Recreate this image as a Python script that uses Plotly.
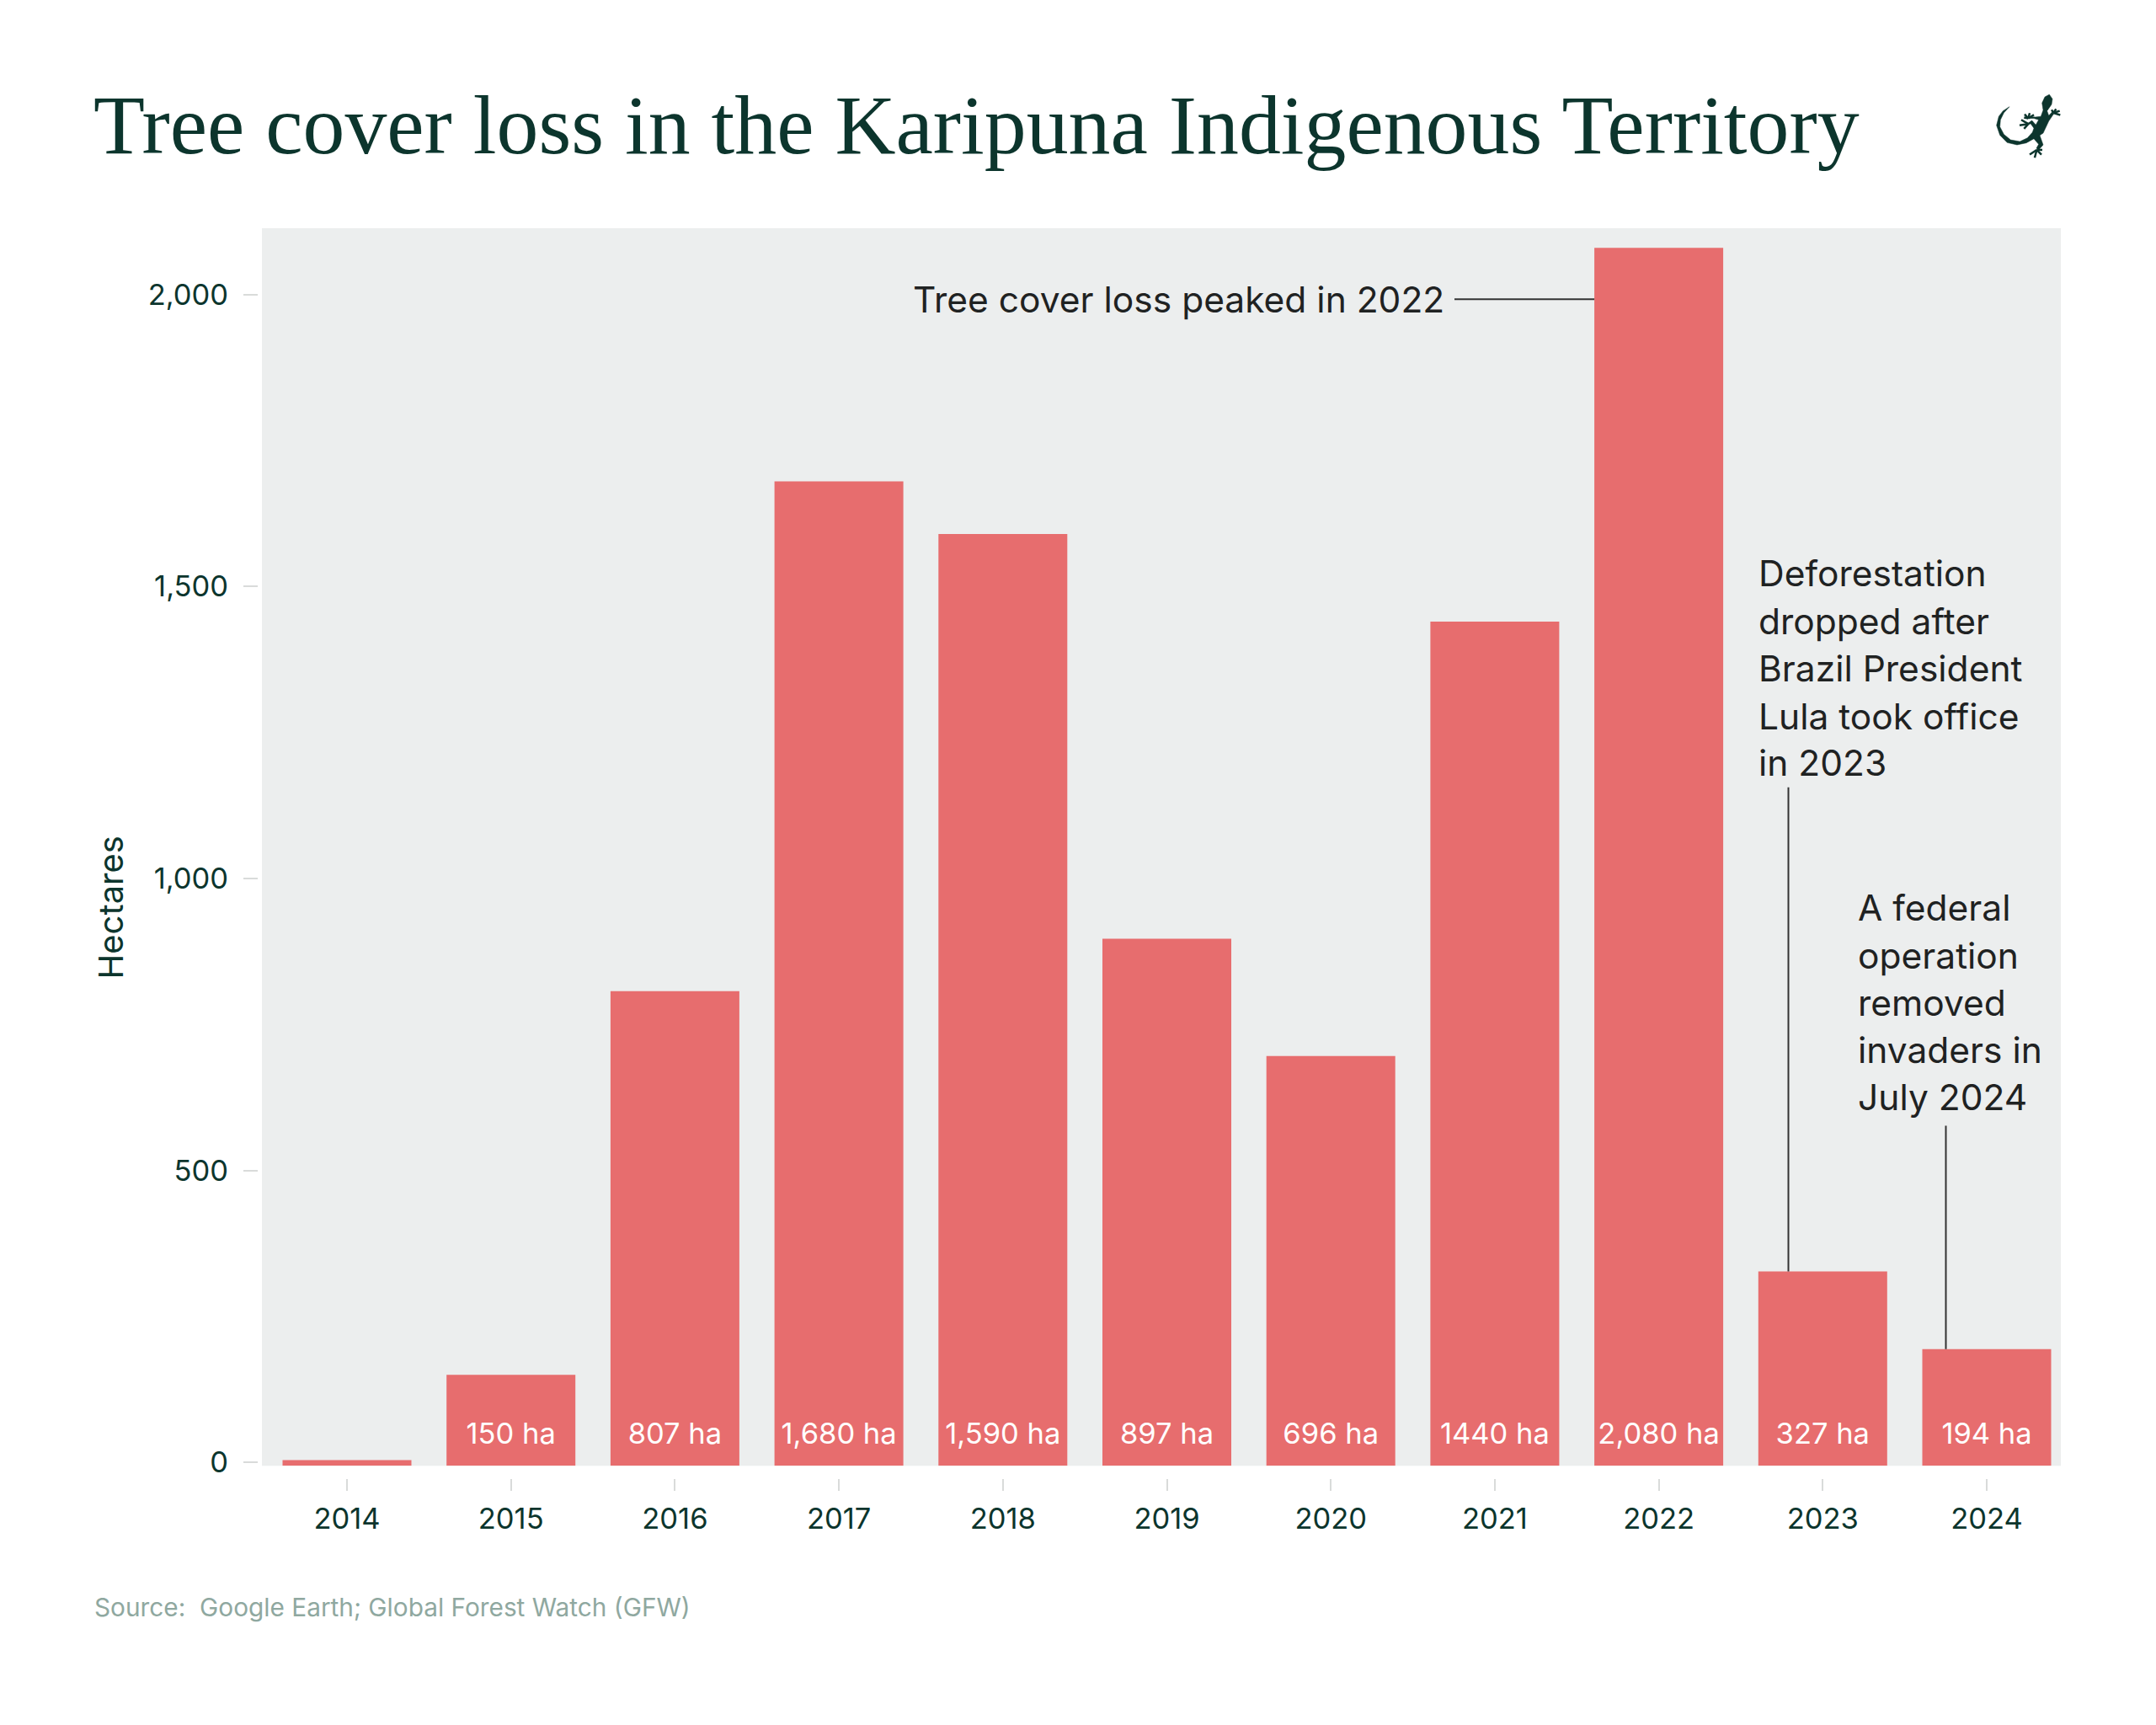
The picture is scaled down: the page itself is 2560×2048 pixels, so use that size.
import numpy as np
import plotly.graph_objects as go

W, H = 2560, 2048

# ---- data ----
years = [2014, 2015, 2016, 2017, 2018, 2019, 2020, 2021, 2022, 2023, 2024]
hectares = [4, 150, 807, 1680, 1590, 897, 696, 1440, 2080, 327, 194]
bar_labels = ["", "150 ha", "807 ha", "1,680 ha", "1,590 ha", "897 ha", "696 ha",
              "1440 ha", "2,080 ha", "327 ha", "194 ha"]
y_ticks = [0, 500, 1000, 1500, 2000]
y_tick_labels = ["0", "500", "1,000", "1,500", "2,000"]
title_text = "Tree cover loss in the Karipuna Indigenous Territory"
source_text = "Source:&nbsp; Google Earth; Global Forest Watch (GFW)"
note_peak = "Tree cover loss peaked in 2022"
note_lula = ["Deforestation", "dropped after", "Brazil President", "Lula took office", "in 2023"]
note_op = ["A federal", "operation", "removed", "invaders in", "July 2024"]

# ---- styles ----
GREEN = "#0C352D"
BAR = "#E76D6E"
PANEL = "#ECEEEE"
NOTE = "#1F2222"
LEADER = "#333333"
TICK = "#D9DBDA"
SRC = "#8FA8A0"
SANS = "Inter"
SERIF = "Liberation Serif"

PL, PR, PT, PB = 311, 2447, 273, 1754
Y0, Y2000 = 1750, 352.5
px_per_unit = (Y0 - Y2000) / 2000
y_min = -(PB - Y0) / px_per_unit
y_max = (Y0 - PT) / px_per_unit
X0, STEP = 412, 194.7
x_min = 2014 - (X0 - PL) / STEP
x_max = 2014 + (PR - X0) / STEP
BAR_W = 153 / STEP


def py2y(py):
    return (Y0 - py) / px_per_unit


def px2x(px):
    return 2014 + (px - X0) / STEP


fig = go.Figure()
fig.add_trace(go.Bar(
    x=years,
    y=np.array(hectares) - y_min,
    base=y_min,
    width=BAR_W,
    marker=dict(color=BAR, line=dict(width=0)),
    hoverinfo="skip",
    showlegend=False,
))
fig.add_trace(go.Scatter(
    x=years,
    y=[py2y(1719)] * len(years),
    mode="text",
    text=bar_labels,
    textposition="middle center",
    textfont=dict(family=SANS, size=34.5, color="#FFFFFF"),
    hoverinfo="skip",
    showlegend=False,
))

annotations = []


def paper_text(text, px, py, size, color, family=SANS, xanchor="left", yanchor="middle", angle=0):
    annotations.append(dict(
        text=text, x=px / W, y=1 - py / H, xref="paper", yref="paper",
        xanchor=xanchor, yanchor=yanchor, showarrow=False, textangle=angle,
        font=dict(family=family, size=size, color=color), align="left",
        borderpad=0, borderwidth=0,
    ))


paper_text(title_text, 111, 150, 99.8, GREEN, family=SERIF)
paper_text(source_text, 112, 1923, 29.8, SRC)
paper_text("Hectares", 132, 1086, 40, GREEN, xanchor="center", angle=-90)
paper_text(note_peak, 1715, 358, 42.5, NOTE, xanchor="right")
for line, py in zip(note_lula, [686, 743, 800, 857, 913]):
    paper_text(line, 2088, py, 42.5, NOTE)
for line, py in zip(note_op, [1086, 1143, 1200, 1256, 1313]):
    paper_text(line, 2206, py, 42.5, NOTE)

shapes = [
    dict(type="line", xref="x", yref="y", x0=px2x(1727), x1=2022 - BAR_W / 2,
         y0=py2y(358), y1=py2y(358), line=dict(color=LEADER, width=2)),
    dict(type="line", xref="x", yref="y", x0=px2x(2123.5), x1=px2x(2123.5),
         y0=py2y(942), y1=hectares[9], line=dict(color=LEADER, width=2)),
    dict(type="line", xref="x", yref="y", x0=px2x(2310.5), x1=px2x(2310.5),
         y0=py2y(1347), y1=hectares[10], line=dict(color=LEADER, width=2)),
]


# gecko logo, a decoration drawn in page coordinates (crop coords: 3x from 2300,90)
def logo_pt(zx, zy):
    return (2300 + zx / 3) / W, 1 - (90 + zy / 3) / H


def logo_path(points, close=True):
    parts = []
    for i, (zx, zy) in enumerate(points):
        x, y = logo_pt(zx, zy)
        parts.append(("M" if i == 0 else "L") + f"{x:.5f},{y:.5f}")
    return " ".join(parts) + (" Z" if close else "")


body = [(400, 69), (411, 85), (408, 105), (392, 128), (398, 145), (410, 132), (416, 138), (398, 165),
        (378, 208), (366, 216), (378, 250), (362, 268), (354, 262), (362, 248), (345, 228),
        (318, 243), (285, 250), (250, 242), (224, 215), (212, 180), (220, 148), (235, 128), (258, 113),
        (238, 135), (226, 160), (224, 185), (238, 212), (262, 232), (295, 238), (322, 225), (340, 205),
        (345, 190), (332, 172), (340, 165), (352, 178), (362, 160), (345, 155), (325, 155), (328, 148), (350, 150),
        (370, 148), (378, 125), (374, 100), (384, 78)]
shapes.append(dict(type="path", xref="paper", yref="paper", path=logo_path(body),
                   fillcolor=GREEN, line=dict(color=GREEN, width=0.5)))
toes = [
    [(355, 268), (330, 285)], [(355, 268), (348, 296)], [(355, 268), (372, 285)], [(355, 268), (375, 268)],
    [(415, 135), (408, 124)], [(415, 135), (424, 121)], [(415, 135), (437, 128)], [(415, 135), (439, 143)],
    [(325, 155), (312, 140)], [(325, 155), (330, 136)], [(325, 155), (345, 142)], [(325, 155), (310, 152)],
    [(325, 175), (300, 160)], [(325, 175), (294, 180)], [(325, 175), (310, 192)], [(325, 175), (340, 165)],
]
for t in toes:
    shapes.append(dict(type="path", xref="paper", yref="paper", path=logo_path(t, close=False),
                       line=dict(color=GREEN, width=2.5)))

fig.update_layout(
    width=W, height=H,
    autosize=False,
    margin=dict(l=0, r=0, t=0, b=0),
    paper_bgcolor="#FFFFFF",
    plot_bgcolor=PANEL,
    showlegend=False,
    annotations=annotations,
    shapes=shapes,
    xaxis=dict(
        domain=[PL / W, PR / W],
        range=[x_min, x_max],
        anchor="free", position=1 - 1769 / H,
        tickmode="array", tickvals=years, ticktext=[str(y) for y in years],
        ticks="outside", ticklen=14, tickwidth=2, tickcolor=TICK,
        tickfont=dict(family=SANS, size=34.5, color=GREEN),
        ticklabelstandoff=3,
        showgrid=False, zeroline=False, showline=False,
    ),
    yaxis=dict(
        domain=[1 - PB / H, 1 - PT / H],
        range=[y_min, y_max],
        anchor="free", position=306 / W,
        tickmode="array", tickvals=y_ticks, ticktext=y_tick_labels,
        ticks="outside", ticklen=17, tickwidth=2, tickcolor=TICK,
        tickfont=dict(family=SANS, size=34.5, color=GREEN),
        ticklabelstandoff=11,
        showgrid=False, zeroline=False, showline=False,
    ),
)

fig.write_html("out.html", config={"displayModeBar": False},
               post_script="document.body.style.margin='0';")
